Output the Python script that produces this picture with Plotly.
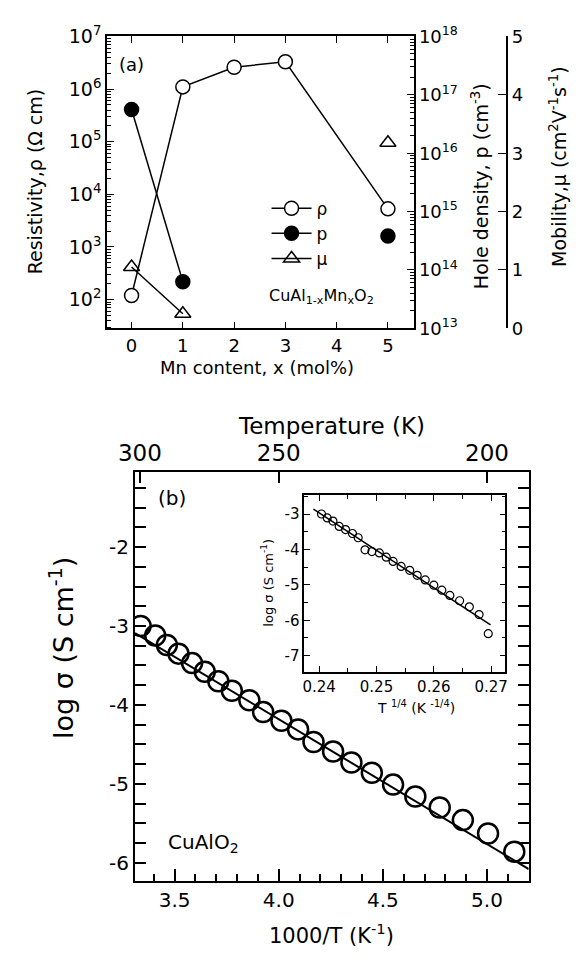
import plotly.graph_objects as go

W, H = 580, 967
FONT = "DejaVu Sans"

# ---------------- Panel (a) data ----------------
mn_x = [0, 1, 2, 3, 5]
resistivity = [1.2e2, 1.1e6, 2.6e6, 3.3e6, 5.3e3]          # Ohm cm
p_x = [0, 1, 5]
hole_density = [5.6e16, 6.3e13, 3.8e14]                     # cm^-3
mu_x = [0, 1, 5]
mobility = [1.05, 0.25, 3.18]                               # cm2/Vs

res_ticks = [1e2, 1e3, 1e4, 1e5, 1e6, 1e7]
res_ticktext = ["10<sup>2</sup>", "10<sup>3</sup>", "10<sup>4</sup>", "10<sup>5</sup>", "10<sup>6</sup>", "10<sup>7</sup>"]
hd_ticks = [1e13, 1e14, 1e15, 1e16, 1e17, 1e18]
hd_ticktext = ["10<sup>13</sup>", "10<sup>14</sup>", "10<sup>15</sup>", "10<sup>16</sup>", "10<sup>17</sup>", "10<sup>18</sup>"]

# ---------------- Panel (b) data ----------------
inv_T = [3.337, 3.407, 3.463, 3.519, 3.584, 3.645, 3.710, 3.775, 3.859, 3.925, 4.013,
         4.093, 4.167, 4.261, 4.349, 4.447, 4.549, 4.656, 4.773, 4.884, 5.005, 5.131]
log_sigma = [-3.00, -3.12, -3.24, -3.35, -3.47, -3.58, -3.70, -3.82, -3.94, -4.09, -4.20,
             -4.31, -4.47, -4.59, -4.73, -4.86, -5.01, -5.16, -5.30, -5.46, -5.63, -5.86]
fit_x = [3.31, 5.20]
fit_y = [-3.09, -6.08]
temp_ticks = [300, 250, 200]

# inset
t_quarter = [0.2404, 0.2414, 0.2424, 0.2435, 0.2446, 0.2458, 0.2468, 0.2480, 0.2492, 0.2505,
             0.2517, 0.2529, 0.2543, 0.2558, 0.2571, 0.2585, 0.2600, 0.2614, 0.2628, 0.2645,
             0.2662, 0.2679, 0.2695]
log_sigma_in = [-3.00, -3.11, -3.20, -3.35, -3.44, -3.55, -3.67, -4.01, -4.06, -4.10,
                -4.22, -4.34, -4.48, -4.59, -4.73, -4.86, -5.01, -5.15, -5.30, -5.45,
                -5.62, -5.84, -6.38]
fit_in_x = [0.2390, 0.2699]
fit_in_y = [-2.86, -6.13]
inset_xticks = [0.24, 0.25, 0.26, 0.27]
inset_xticktext = ["0.24", "0.25", "0.26", "0.27"]


def px(x):
    return x / W


def py(y):
    return 1 - y / H


fig = go.Figure()

# rho
fig.add_trace(go.Scatter(x=mn_x, y=resistivity, mode="lines+markers", name="ρ",
                         xaxis="x", yaxis="y",
                         line=dict(color="black", width=1.5),
                         marker=dict(symbol="circle", size=14, color="white",
                                     line=dict(color="black", width=1.5))))
# hole density (line only between first two points)
fig.add_trace(go.Scatter(x=p_x[:2] + [None] + p_x[2:],
                         y=hole_density[:2] + [None] + hole_density[2:],
                         mode="lines+markers", name="p", xaxis="x", yaxis="y2",
                         line=dict(color="black", width=1.5),
                         marker=dict(symbol="circle", size=14, color="black",
                                     line=dict(color="black", width=1.5))))
# mobility
fig.add_trace(go.Scatter(x=mu_x[:2] + [None] + mu_x[2:],
                         y=mobility[:2] + [None] + mobility[2:],
                         mode="lines+markers", name="μ", xaxis="x", yaxis="y3",
                         line=dict(color="black", width=1.5),
                         marker=dict(symbol="triangle-up-open", size=14, color="black",
                                     line=dict(color="black", width=1.5))))

# panel (b)
fig.add_trace(go.Scatter(x=fit_x, y=fit_y, mode="lines", showlegend=False,
                         xaxis="x2", yaxis="y4", line=dict(color="black", width=2)))
fig.add_trace(go.Scatter(x=inv_T, y=log_sigma, mode="markers", showlegend=False,
                         xaxis="x2", yaxis="y4",
                         marker=dict(symbol="circle-open", size=20, color="black",
                                     line=dict(color="black", width=2.5))))
# dummy for top axis
fig.add_trace(go.Scatter(x=[fit_x[0]], y=[fit_y[0]], mode="markers", showlegend=False,
                         xaxis="x3", yaxis="y4", marker=dict(opacity=0), hoverinfo="skip"))

# inset
fig.add_trace(go.Scatter(x=fit_in_x, y=fit_in_y, mode="lines", showlegend=False,
                         xaxis="x4", yaxis="y5", line=dict(color="black", width=1.5)))
fig.add_trace(go.Scatter(x=t_quarter, y=log_sigma_in, mode="markers", showlegend=False,
                         xaxis="x4", yaxis="y5",
                         marker=dict(symbol="circle-open", size=8, color="black",
                                     line=dict(color="black", width=1.2))))

ax_common = dict(showgrid=False, zeroline=False, showline=True, linecolor="black",
                 tickcolor="black", color="black")

fig.update_layout(
    width=W, height=H, margin=dict(l=0, r=0, t=0, b=0),
    paper_bgcolor="white", plot_bgcolor="white",
    font=dict(family=FONT, color="black", size=17),
    showlegend=True,
    legend=dict(x=px(258), y=py(182), xanchor="left", yanchor="top",
                bgcolor="rgba(0,0,0,0)", font=dict(size=17), tracegroupgap=0,
                itemwidth=40),
    xaxis=dict(**ax_common, domain=[px(93), px(410)], anchor="y", range=[-0.48, 5.5],
               tickvals=[0, 1, 2, 3, 4, 5], ticks="inside", ticklen=7, linewidth=1.5,
               mirror="ticks", tickfont=dict(size=18)),
    yaxis=dict(**ax_common, domain=[py(323), py(24)], anchor="x", type="log",
               range=[1.455, 7], tickvals=res_ticks, ticktext=res_ticktext,
               ticks="inside", ticklen=7, linewidth=1.5, tickfont=dict(size=19),
               minor=dict(ticks="inside", ticklen=4, dtick="D1", tickcolor="black")),
    yaxis2=dict(**ax_common, overlaying="y", anchor="x", side="right", type="log",
                range=[13, 18], tickvals=hd_ticks, ticktext=hd_ticktext,
                ticks="inside", ticklen=7, linewidth=1.5, tickfont=dict(size=18),
                minor=dict(ticks="inside", ticklen=4, dtick="D1", tickcolor="black")),
    yaxis3=dict(**ax_common, overlaying="y", anchor="free", position=px(507), side="right",
                range=[0, 5], tickvals=[0, 1, 2, 3, 4, 5], ticks="inside", ticklen=9,
                linewidth=1.5, tickfont=dict(size=18)),
    xaxis2=dict(**ax_common, domain=[px(122), px(529)], anchor="y4", range=[3.31, 5.2],
                tickvals=[3.5, 4.0, 4.5, 5.0], ticktext=["3.5", "4.0", "4.5", "5.0"],
                ticks="inside", ticklen=12, tickwidth=1.5, linewidth=2,
                tickfont=dict(size=20),
                minor=dict(ticks="inside", ticklen=7, dtick=0.1, tick0=3.5,
                           tickcolor="black", tickwidth=1.5)),
    xaxis3=dict(**ax_common, overlaying="x2", anchor="y4", side="top", range=[3.31, 5.2],
                tickvals=[1000 / t for t in temp_ticks], ticktext=[str(t) for t in temp_ticks],
                ticks="inside", ticklen=11, tickwidth=1.5, linewidth=2,
                tickfont=dict(size=23)),
    yaxis4=dict(**ax_common, domain=[py(889), py(470)], anchor="x2", range=[-6.23, -1.045],
                tickvals=[-6, -5, -4, -3, -2], ticktext=["-6", "-5", "-4", "-3", "-2"],
                ticks="inside", ticklen=11, tickwidth=1.5, linewidth=2, mirror="allticks",
                tickfont=dict(size=20),
                minor=dict(ticks="inside", ticklen=6, dtick=0.25, tick0=-2,
                           tickcolor="black", tickwidth=1.5)),
    xaxis4=dict(**ax_common, domain=[px(297), px(505)], anchor="y5", range=[0.2374, 0.2725],
                tickvals=inset_xticks, ticktext=inset_xticktext,
                ticks="inside", ticklen=6, linewidth=1.5, mirror="allticks",
                tickfont=dict(size=15),
                minor=dict(ticks="inside", ticklen=4, dtick=0.005, tick0=0.24, tickcolor="black")),
    yaxis5=dict(**ax_common, domain=[py(675), py(494)], anchor="x4", range=[-7.46, -2.47],
                tickvals=[-7, -6, -5, -4, -3], ticktext=["-7", "-6", "-5", "-4", "-3"],
                ticks="inside", ticklen=6, linewidth=1.5, mirror="allticks",
                tickfont=dict(size=15),
                minor=dict(ticks="inside", ticklen=4, dtick=0.5, tick0=-3, tickcolor="black")),
)

ann = [
    dict(x=px(18), y=py(172), text="Resistivity,ρ (Ω cm)", textangle=-90, size=19),
    dict(x=px(478), y=py(177), text="Hole density, p (cm<sup>-3</sup>)", textangle=-90, size=19),
    dict(x=px(560), y=py(158), text="Mobility,μ (cm<sup>2</sup>V<sup>-1</sup>s<sup>-1</sup>)",
         textangle=-90, size=19),
    dict(x=px(248), y=py(363), text="Mn content, x (mol%)", textangle=0, size=18),
    dict(x=px(118), y=py(53), text="(a)", textangle=0, size=18),
    dict(x=px(315), y=py(290), text="CuAl<sub>1-x</sub>Mn<sub>x</sub>O<sub>2</sub>", textangle=0, size=16),
    dict(x=px(325), y=py(423), text="Temperature (K)", textangle=0, size=23),
    dict(x=px(325), y=py(943), text="1000/T (K<sup>-1</sup>)", textangle=0, size=21),
    dict(x=px(46), y=py(650), text="log σ (S cm<sup>-1</sup>)", textangle=-90, size=27),
    dict(x=px(160), y=py(497), text="(b)", textangle=0, size=20),
    dict(x=px(193), y=py(850), text="CuAlO<sub>2</sub>", textangle=0, size=20),
    dict(x=px(259), y=py(584), text="log σ (S cm<sup>-1</sup>)", textangle=-90, size=13),
    dict(x=px(412), y=py(711), text="T <sup>1/4</sup> (K <sup>-1/4</sup>)", textangle=0, size=14),
]
fig.update_layout(annotations=[
    dict(x=a["x"], y=a["y"], xref="paper", yref="paper", text=a["text"], showarrow=False,
         textangle=a["textangle"], font=dict(size=a["size"], family=FONT, color="black"),
         xanchor="center", yanchor="middle")
    for a in ann
])

fig.write_html("out.html")
